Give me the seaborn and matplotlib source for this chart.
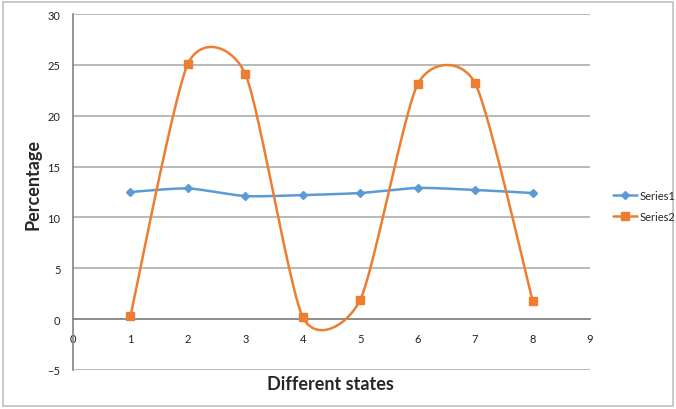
import numpy as np
import pandas as pd
import matplotlib.pyplot as plt
import seaborn as sns
from matplotlib.lines import Line2D
from matplotlib.patches import Rectangle

# datos
estados = [1, 2, 3, 4, 5, 6, 7, 8]
serie1 = [12.5, 12.85, 12.1, 12.2, 12.4, 12.9, 12.7, 12.4]
serie2 = [0.3, 25.1, 24.1, 0.2, 1.9, 23.1, 23.2, 1.8]
x_ticks = list(range(0, 10))
y_ticks = list(range(-5, 31, 5))

azul = "#5B9BD5"
naranja = "#ED7D31"


def suavizar(xs, ys, t=0.115, n=40):
    # curva bezier tipo "linea suavizada" de Excel
    pts = np.column_stack([xs, ys]).astype(float)
    out = []
    for i in range(len(pts) - 1):
        p0 = pts[max(i - 1, 0)]
        p1 = pts[i]
        p2 = pts[i + 1]
        p3 = pts[min(i + 2, len(pts) - 1)]
        c1 = p1 + t * (p2 - p0)
        c2 = p2 - t * (p3 - p1)
        s = np.linspace(0, 1, n)[:, None]
        seg = (1 - s) ** 3 * p1 + 3 * (1 - s) ** 2 * s * c1 + 3 * (1 - s) * s ** 2 * c2 + s ** 3 * p2
        out.append(seg if i == 0 else seg[1:])
    return np.vstack(out)


sns.set_theme(style="white")
plt.rcParams['font.family'] = ['Lato', 'DejaVu Sans']

fig = plt.figure(figsize=(6.76, 4.10), dpi=100)
ax = fig.add_axes([73 / 676, 1 - 371 / 410, (590 - 73) / 676, (371 - 15) / 410])

for ys, color, marker, ms in [(serie1, azul, "D", 4.5), (serie2, naranja, "s", 6)]:
    curva = suavizar(estados, ys)
    df = pd.DataFrame({"x": curva[:, 0], "y": curva[:, 1]})
    sns.lineplot(data=df, x="x", y="y", sort=False, color=color, lw=1.8, ax=ax, zorder=3)
    ax.plot(estados, ys, linestyle="none", marker=marker, ms=ms, color=color, zorder=4)

ax.set_xlim(0, 9)
ax.set_ylim(-5, 30)
ax.set_xticks(x_ticks)
ax.set_yticks(y_ticks)
ax.yaxis.grid(True, color="#A6A6A6", lw=1.1)
ax.set_axisbelow(True)

for lado in ["top", "right"]:
    ax.spines[lado].set_visible(False)
ax.spines["left"].set_color("#888888")
ax.spines["bottom"].set_color("#888888")
ax.spines["bottom"].set_position(("data", 0))
ax.tick_params(axis="both", length=0, labelsize=8, colors="#222222")
ax.tick_params(axis="x", pad=10)
ax.tick_params(axis="y", pad=9)

ax.set_xlabel("")
ax.set_ylabel("")
fig.text(330 / 676, 1 - 385 / 410, "Different states", ha="center", va="center",
         fontsize=13, fontweight="bold")
fig.text(33 / 676, 1 - 185 / 410, "Percentage", ha="center", va="center",
         rotation=90, fontsize=13, fontweight="bold")

handles = [
    Line2D([], [], color=azul, lw=1.8, marker="D", ms=4.5),
    Line2D([], [], color=naranja, lw=1.8, marker="s", ms=6),
]
fig.legend(handles, ["Series1", "Series2"], loc="center left",
           bbox_to_anchor=(603 / 676, 1 - 207 / 410), frameon=False,
           fontsize=8, handlelength=2.2, handletextpad=0.2, labelspacing=0.85)

fig.patches.append(Rectangle((3 / 676, 3 / 410), 670 / 676, 404 / 410,
                             transform=fig.transFigure, fill=False,
                             edgecolor="#BFBFBF", lw=1.2))

plt.savefig("out.png", dpi=100)
